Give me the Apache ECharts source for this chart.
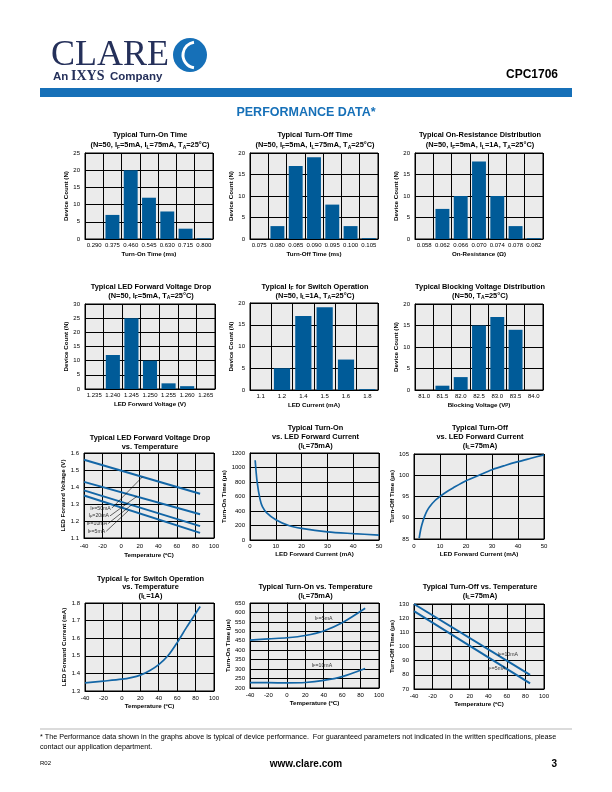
<!DOCTYPE html>
<html><head><meta charset="utf-8">
<script src="https://cdn.jsdelivr.net/npm/echarts@6/dist/echarts.min.js"></script>
<style>html,body{margin:0;padding:0;background:#fff}#c{width:612px;height:792px}</style>
</head><body><div id="c"></div>
<script>
// ---------------- DATA ----------------
// 1 Turn-On time histogram
const turnOnCats = ['0.290','0.375','0.460','0.545','0.630','0.715','0.800'];
const turnOnCounts = [0, 7, 20, 12, 8, 3, 0.2];
// 2 Turn-Off time histogram
const turnOffCats = ['0.075','0.080','0.085','0.090','0.095','0.100','0.105'];
const turnOffCounts = [0, 3, 17, 19, 8, 3, 0.2];
// 3 On-resistance histogram
const ronCats = ['0.058','0.062','0.066','0.070','0.074','0.078','0.082'];
const ronCounts = [0, 7, 10, 18, 10, 3, 0.2];
// 4 LED forward voltage histogram
const vfCats = ['1.235','1.240','1.245','1.250','1.255','1.260','1.265'];
const vfCounts = [0, 12, 25, 10, 2, 1, 0];
// 5 IF for switch operation histogram
const ifCats = ['1.1','1.2','1.4','1.5','1.6','1.8'];
const ifCounts = [0, 5, 17, 19, 7, 0.2];
// 6 Blocking voltage histogram
const bvCats = ['81.0','81.5','82.0','82.5','83.0','83.5','84.0'];
const bvCounts = [0, 1, 3, 15, 17, 14, 0];
// 7 LED forward voltage vs temperature
const vfTempX = [-40, 85];
const vf50mA = [1.56, 1.36];
const vf20mA = [1.43, 1.24];
const vf10mA = [1.38, 1.17];
const vf5mA  = [1.35, 1.13];
const vfLabels = ['I{s|F}=50mA','I{s|F}=20mA','I{s|F}=10mA','I{s|F}=5mA'];
const vfLabelPts = [[-10,1.276],[-12,1.23],[-14,1.185],[-16,1.14]];
const vfLeaderEnds = [[23,1.46],[17,1.345],[12,1.298],[8,1.262]];
// 8 Turn-on vs LED current
const tonIfX = [2, 2.8, 3.9, 4.8, 6.5, 10, 15, 20, 30, 40, 50];
const tonIfY = [1100, 790, 560, 460, 375, 280, 200, 160, 112, 88, 68];
// 9 Turn-off vs LED current
const toffIfX = [2, 2.5, 3, 4, 5, 6, 8, 10, 12, 15, 20, 25, 30, 35, 40, 45, 50];
const toffIfY = [85.2, 87.0, 88.3, 90.2, 91.6, 92.6, 94.0, 95.0, 95.9, 97.0, 98.7, 100.0, 101.3, 102.3, 103.2, 104.0, 104.8];
// 10 IF for switch vs temperature
const ifTempX = [-40, -20, 0, 10, 20, 30, 40, 50, 60, 70, 80, 85];
const ifTempY = [1.346, 1.356, 1.367, 1.376, 1.39, 1.415, 1.45, 1.50, 1.575, 1.66, 1.74, 1.78];
// 11 Turn-on vs temperature
const tonTempX = [-40, -20, 0, 20, 40, 60, 85];
const ton5mA  = [453, 460, 466, 478, 502, 545, 622];
const ton10mA = [228, 228, 227, 229, 240, 260, 303];
const tonTempLabels = ['I{s|F}=5mA','I{s|F}=10mA'];
const tonTempLabelPts = [[40,567],[38,320]];
// 12 Turn-off vs temperature
const toffTempX = [-40, 85];
const toff10mA = [130, 80];
const toff5mA  = [125, 74];
const toffTempLabels = ['I{s|F}=10mA','I{s|F}=5mA'];
const toffTempLabelPts = [[61,94.6],[49,84.3]];

// ---------------- STYLE ----------------
const FONT = 'Liberation Sans, Arial, Helvetica, sans-serif';
const BAR = '#005b98';
const LINE = '#1366a6';
const BLUE = '#1670b8';
const NAVY = '#25305a';
const subRich = {
  s:{fontSize:5, fontWeight:'bold', fontFamily:FONT, color:'#000', lineHeight:6, verticalAlign:'bottom'}
};

const grids=[], xAxes=[], yAxes=[], series=[], titles=[];

function addPanel(p){
  const gi = grids.length;
  const [l,t,r,b] = p.rect;
  grids.push({left:l, top:t, width:r-l, height:b-t, show:true, backgroundColor:'#ebebeb',
    borderColor:'#000', borderWidth:1, containLabel:false});
  titles.push({text:p.title, left:(l+r)/2+1, top:p.titleTop, textAlign:'center', padding:0,
    textStyle:{fontFamily:FONT, fontSize:7.4, fontWeight:'bold', color:'#000', lineHeight:p.lh||9, rich:subRich}});
  const axisLine = {show:true, lineStyle:{color:'#000', width:1}};
  const split = {show:true, lineStyle:{color:'#000', width:1}};
  const labelStyle = {fontFamily:FONT, fontSize:6, color:'#000'};
  const nameStyle = {fontFamily:FONT, fontSize:6.2, fontWeight:'bold', color:'#000', rich:{s:{fontSize:4.5,fontWeight:'bold',fontFamily:FONT,lineHeight:5,verticalAlign:'bottom'}}};
  if(p.kind==='bar'){
    xAxes.push({gridIndex:gi, type:'category', data:p.cats, boundaryGap:true,
      axisLine, axisTick:{show:false}, splitLine:split,
      axisLabel:{...labelStyle, margin:3, interval:0},
      name:p.xName, nameLocation:'middle', nameGap:p.xGap||12, nameTextStyle:nameStyle});
  } else {
    xAxes.push({gridIndex:gi, type:'value', min:p.xMin, max:p.xMax, interval:p.xInt,
      axisLine, axisTick:{show:false}, splitLine:split,
      axisLabel:{...labelStyle, margin:p.xMargin||4},
      name:p.xName, nameLocation:'middle', nameGap:p.xGap||13, nameTextStyle:nameStyle});
  }
  yAxes.push({gridIndex:gi, type:'value', min:p.yMin||0, max:p.yMax, interval:p.yInt,
    axisLine, axisTick:{show:false}, splitLine:split,
    axisLabel:{...labelStyle, margin:p.yMargin||5, formatter:p.yFmt||(v=>String(v))},
    name:p.yName, nameLocation:'middle', nameGap:p.yGap||15, nameRotate:90, nameTextStyle:nameStyle});
  if(p.kind==='bar'){
    series.push({type:'bar', xAxisIndex:gi, yAxisIndex:gi, data:p.vals, barWidth:'76%',
      itemStyle:{color:BAR}, silent:true, animation:false});
  }
  return gi;
}
function addLine(gi, xs, ys, opt){
  opt = opt||{};
  series.push({type:'line', xAxisIndex:gi, yAxisIndex:gi, data:xs.map((x,k)=>[x,ys[k]]),
    smooth:opt.smooth||false, showSymbol:false, symbol:'none', silent:true, animation:false,
    lineStyle:{color:opt.color||LINE, width:opt.width||1.7}, z:opt.z||3});
}
function addLabels(gi, texts, pts, pos){
  series.push({type:'scatter', xAxisIndex:gi, yAxisIndex:gi, symbolSize:0.1, silent:true, animation:false,
    itemStyle:{color:'rgba(0,0,0,0)'},
    data:pts.map((pt,k)=>({value:pt, label:{formatter:texts[k]}})),
    label:{show:true, position:pos||'inside', distance:1, fontFamily:FONT, fontSize:5.2, color:'#000',
      rich:{s:{fontSize:4, fontFamily:FONT, color:'#000', lineHeight:4, verticalAlign:'bottom'}}}, z:5});
}

const SUB1 = '(N=50, I{s|F}=5mA, I{s|L}=75mA, T{s|A}=25°C)';
// Row 1
addPanel({kind:'bar', rect:[85,153,213,239], titleTop:130, lh:10,
  title:'Typical Turn-On Time\n'+SUB1, cats:turnOnCats, vals:turnOnCounts, yMax:25, yInt:5,
  xName:'Turn-On Time (ms)', yName:'Device Count (N)'});
addPanel({kind:'bar', rect:[250,153,378,239], titleTop:130, lh:10,
  title:'Typical Turn-Off Time\n'+SUB1, cats:turnOffCats, vals:turnOffCounts, yMax:20, yInt:5,
  xName:'Turn-Off Time (ms)', yName:'Device Count (N)'});
addPanel({kind:'bar', rect:[415,153,543,239], titleTop:130, lh:10,
  title:'Typical On-Resistance Distribution\n(N=50, I{s|F}=5mA, I{s|L}=1A, T{s|A}=25°C)', cats:ronCats, vals:ronCounts, yMax:20, yInt:5,
  xName:'On-Resistance (Ω)', yName:'Device Count (N)'});
// Row 2
addPanel({kind:'bar', rect:[85,304,215,389], titleTop:282,
  title:'Typical LED Forward Voltage Drop\n(N=50, I{s|F}=5mA, T{s|A}=25°C)', cats:vfCats, vals:vfCounts, yMax:30, yInt:5,
  xName:'LED Forward Voltage (V)', yName:'Device Count (N)'});
addPanel({kind:'bar', rect:[250,303,378,390], titleTop:282,
  title:'Typical I{s|F} for Switch Operation\n(N=50, I{s|L}=1A, T{s|A}=25°C)', cats:ifCats, vals:ifCounts, yMax:20, yInt:5,
  xName:'LED Current (mA)', yName:'Device Count (N)'});
addPanel({kind:'bar', rect:[415,304,543,390], titleTop:282,
  title:'Typical Blocking Voltage Distribution\n(N=50, T{s|A}=25°C)', cats:bvCats, vals:bvCounts, yMax:20, yInt:5,
  xName:'Blocking Voltage (V{s|P})', yName:'Device Count (N)'});
// Row 3
let g = addPanel({kind:'line', rect:[84,453,214,538], titleTop:433,
  title:'Typical LED Forward Voltage Drop\nvs. Temperature', xMin:-40, xMax:100, xInt:20,
  yMin:1.1, yMax:1.6, yInt:0.1, yFmt:v=>v.toFixed(1), xName:'Temperature (ºC)', yName:'LED Forward Voltage (V)', yGap:16, xGap:14, xMargin:5});
addLine(g, vfTempX, vf50mA, {width:2});
addLine(g, vfTempX, vf20mA, {width:2});
addLine(g, vfTempX, vf10mA, {width:2});
addLine(g, vfTempX, vf5mA, {width:2});
vfLabelPts.forEach((pt,k)=>addLine(g, [pt[0], vfLeaderEnds[k][0]], [pt[1], vfLeaderEnds[k][1]], {color:'#000', width:0.6, z:4}));
addLabels(g, vfLabels, vfLabelPts, 'left');

g = addPanel({kind:'line', rect:[250,453,379,540], titleTop:423,
  title:'Typical Turn-On\nvs. LED Forward Current\n(I{s|L}=75mA)', xMin:0, xMax:50, xInt:10,
  yMin:0, yMax:1200, yInt:200, xName:'LED Forward Current (mA)', yName:'Turn-On Time (µs)', yGap:19, xGap:11, xMargin:3});
addLine(g, tonIfX, tonIfY, {smooth:0.3});

g = addPanel({kind:'line', rect:[414,454,544,539], titleTop:423,
  title:'Typical Turn-Off\nvs. LED Forward Current\n(I{s|L}=75mA)', xMin:0, xMax:50, xInt:10,
  yMin:85, yMax:105, yInt:5, xName:'LED Forward Current (mA)', yName:'Turn-Off Time (µs)', yGap:18, xGap:12, xMargin:4});
addLine(g, toffIfX, toffIfY, {smooth:0.3});
// Row 4
g = addPanel({kind:'line', rect:[85,603,214,691], titleTop:574.5, lh:8.6,
  title:'Typical I{s|F} for Switch Operation\nvs. Temperature\n(I{s|L}=1A)', xMin:-40, xMax:100, xInt:20,
  yMin:1.3, yMax:1.8, yInt:0.1, yFmt:v=>v.toFixed(1), xName:'Temperature (ºC)', yName:'LED Forward Current (mA)', yGap:17, xGap:12, xMargin:4});
addLine(g, ifTempX, ifTempY, {smooth:0.3});

g = addPanel({kind:'line', rect:[250,603,379,688], titleTop:582,
  title:'Typical Turn-On vs. Temperature\n(I{s|L}=75mA)', xMin:-40, xMax:100, xInt:20,
  yMin:200, yMax:650, yInt:50, xName:'Temperature (ºC)', yName:'Turn-On Time (µs)', yGap:19, xGap:12, xMargin:4});
addLine(g, tonTempX, ton5mA, {smooth:0.3});
addLine(g, tonTempX, ton10mA, {smooth:0.3});
addLabels(g, tonTempLabels, tonTempLabelPts);

g = addPanel({kind:'line', rect:[414,604,544,689], titleTop:582,
  title:'Typical Turn-Off vs. Temperature\n(I{s|L}=75mA)', xMin:-40, xMax:100, xInt:20,
  yMin:70, yMax:130, yInt:10, xName:'Temperature (ºC)', yName:'Turn-Off Time (µs)', yGap:18, xGap:12, xMargin:4});
addLine(g, toffTempX, toff10mA, {width:2});
addLine(g, toffTempX, toff5mA, {width:2});
addLabels(g, toffTempLabels, toffTempLabelPts);

// ---------------- PAGE GRAPHICS ----------------
function txt(x,y,text,font,fill,align){
  return {type:'text', silent:true, style:{x, y, text, font, fill:fill||'#000', textAlign:align||'left', textVerticalAlign:'middle', align:align||'left', verticalAlign:'middle'}};
}
const graphic = [
  txt(51, 56, 'CLARE', '36px Liberation Serif, DejaVu Serif, serif', NAVY),
  {type:'circle', silent:true, shape:{cx:190, cy:55, r:17}, style:{fill:BLUE}},
  {type:'arc', silent:true, shape:{cx:196, cy:55, r:13, startAngle:Math.PI*0.55, endAngle:Math.PI*1.45}, style:{stroke:'#fff', lineWidth:3, fill:null}},
  txt(53, 77, 'An', 'bold 11.5px Liberation Sans, Arial, sans-serif', NAVY),
  txt(71, 76, 'IXYS', 'bold 14px Liberation Serif, serif', NAVY),
  txt(110, 77, 'Company', 'bold 11.5px Liberation Sans, Arial, sans-serif', NAVY),
  txt(558, 75, 'CPC1706', 'bold 12px Liberation Sans, Arial, sans-serif', '#000', 'right'),
  {type:'rect', silent:true, shape:{x:40, y:88, width:532, height:9}, style:{fill:BLUE}},
  txt(306, 113, 'PERFORMANCE DATA*', 'bold 12.5px Liberation Sans, Arial, sans-serif', BLUE, 'center'),
  {type:'line', silent:true, shape:{x1:40, y1:729, x2:572, y2:729}, style:{stroke:'#888', lineWidth:0.6}},
  txt(40, 737, '* The Performance data shown in the graphs above is typical of device performance.  For guaranteed parameters not indicated in the written specifications, please', '7.2px Liberation Sans, Arial, sans-serif', '#000'),
  txt(40, 747, 'contact our application department.', '7.2px Liberation Sans, Arial, sans-serif', '#000'),
  txt(40, 763, 'R02', '6px Liberation Sans, Arial, sans-serif', '#000'),
  txt(306, 764, 'www.clare.com', 'bold 10px Liberation Sans, Arial, sans-serif', '#000', 'center'),
  txt(557, 764, '3', 'bold 10px Liberation Sans, Arial, sans-serif', '#000', 'right')
];

const chart = echarts.init(document.getElementById('c'), null, {renderer:'canvas', width:612, height:792});
chart.setOption({
  animation:false, backgroundColor:'#fff',
  title:titles, grid:grids, xAxis:xAxes, yAxis:yAxes, series, graphic
});
</script>
</body></html>
